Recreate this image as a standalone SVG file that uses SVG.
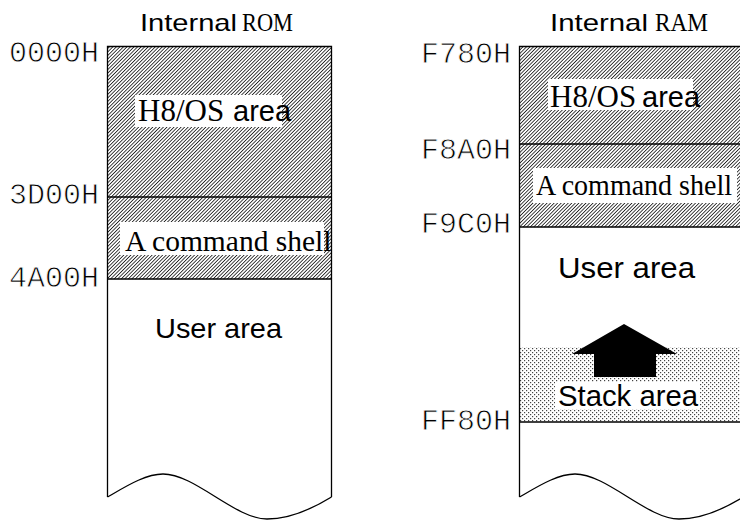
<svg xmlns="http://www.w3.org/2000/svg" width="740" height="520" viewBox="0 0 740 520">
<style>
.sans{font-family:"Liberation Sans",Arial,sans-serif;fill:#000}
.serif{font-family:"Liberation Serif","Times New Roman",serif;fill:#000}
.mono{font-family:"Liberation Mono","Courier New",monospace;font-size:30px;fill:#000;stroke:#fff;stroke-width:0.8}
.edge{fill:none;stroke:#000;stroke-width:1.3}
.bg{fill:#fff}
</style>
<defs>
<pattern id="hatch" patternUnits="userSpaceOnUse" width="10" height="2.5" patternTransform="rotate(-45)">
<rect x="0" y="0" width="10" height="2.5" fill="#fff"/>
<rect x="0" y="0" width="10" height="0.85" fill="#222"/>
</pattern>
<pattern id="dots" patternUnits="userSpaceOnUse" width="4" height="4">
<rect x="0" y="0" width="4" height="4" fill="#fff"/>
<rect x="0" y="0" width="1.2" height="1.2" fill="#444"/>
<rect x="2" y="2" width="1.2" height="1.2" fill="#444"/>
</pattern>
</defs>
<rect width="740" height="520" fill="#fff"/>

<g id="rom">
<g id="rom-title">
<text class="sans" x="140" y="31" font-size="24" textLength="97" lengthAdjust="spacingAndGlyphs">Internal</text>
<text class="serif" x="242" y="31" font-size="25" textLength="51" lengthAdjust="spacingAndGlyphs">ROM</text>
</g>
<g id="rom-h8os">
<rect x="107.5" y="46.5" width="224" height="150.5" fill="url(#hatch)"/>
<rect class="bg" x="135" y="95" width="147" height="32"/>
<text y="121"><tspan class="serif" x="138" font-size="31">H8/OS</tspan><tspan class="sans" x="233" font-size="29">area</tspan></text>
</g>
<g id="rom-shell">
<rect x="107.5" y="197" width="224" height="82" fill="url(#hatch)"/>
<rect class="bg" x="120" y="222" width="204" height="33"/>
<text class="serif" x="125" y="251" font-size="29.5">A command shell</text>
</g>
<g id="rom-user">
<text class="sans" x="155" y="338" font-size="28.5" textLength="127" lengthAdjust="spacingAndGlyphs">User area</text>
</g>
<path class="edge" d="M107.5,497 V46.5 H331.5 V497"/>
<path class="edge" d="M107.5,197 H331.5 M107.5,279 H331.5"/>
<path class="edge" d="M107.5,497 C125,487 145,474 163,474 C195,474 235,519 267,519 C290,519 312,509 331.5,497"/>
<text class="mono" x="9" y="62">0000H</text>
<text class="mono" x="9" y="204">3D00H</text>
<text class="mono" x="9" y="287">4A00H</text>
</g>

<g id="ram">
<g id="ram-title">
<text class="sans" x="550" y="31" font-size="24" textLength="98" lengthAdjust="spacingAndGlyphs">Internal</text>
<text class="serif" x="655" y="31" font-size="25" textLength="53" lengthAdjust="spacingAndGlyphs">RAM</text>
</g>
<g id="ram-h8os">
<rect x="519.5" y="46.5" width="224" height="97.5" fill="url(#hatch)"/>
<rect class="bg" x="548" y="79" width="145" height="31"/>
<text y="107"><tspan class="serif" x="550" font-size="31">H8/OS</tspan><tspan class="sans" x="642" font-size="29">area</tspan></text>
</g>
<g id="ram-shell">
<rect x="519.5" y="144" width="224" height="83" fill="url(#hatch)"/>
<rect class="bg" x="533" y="168" width="204" height="35"/>
<text class="serif" x="536" y="195" font-size="29" textLength="196" lengthAdjust="spacingAndGlyphs">A command shell</text>
</g>
<g id="ram-user">
<text class="sans" x="558" y="278" font-size="29" textLength="137" lengthAdjust="spacingAndGlyphs">User area</text>
</g>
<g id="ram-stack">
<rect x="519.5" y="347" width="224" height="75" fill="url(#dots)"/>
<rect class="bg" x="555" y="382" width="145" height="27"/>
<text class="sans" x="558" y="406" font-size="29" textLength="140" lengthAdjust="spacingAndGlyphs">Stack area</text>
</g>
<path class="edge" d="M519.5,497 V46.5 H745"/>
<path class="edge" d="M519.5,144 H745 M519.5,227 H745 M519.5,422 H745"/>
<path class="edge" d="M519.5,497 C537,487 557,474 575,474 C607,474 647,519 679,519 C702,519 724,509 743.5,497"/>
<text class="mono" x="421" y="63">F780H</text>
<text class="mono" x="421" y="159">F8A0H</text>
<text class="mono" x="421" y="233">F9C0H</text>
<text class="mono" x="421" y="430">FF80H</text>
</g>

<g id="connectors">
<polygon points="624,324 677,354 656,354 656,377 594,377 594,354 572,354" fill="#000"/>
</g>
</svg>
